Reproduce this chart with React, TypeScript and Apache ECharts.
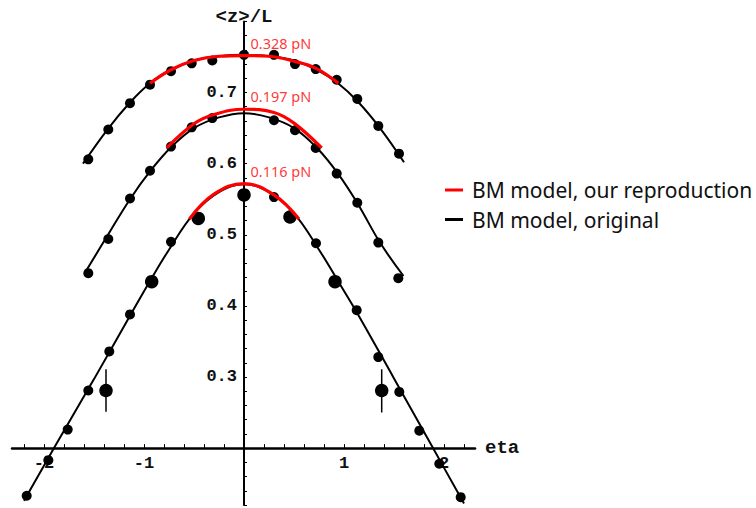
import React, { useEffect, useRef } from "react";
import * as echarts from "echarts";

// ---- data ----
const xTickLabels = [-2, -1, 1, 2];
const yTickLabels = [0.3, 0.4, 0.5, 0.6, 0.7];
const xTicks = [-2.2, -2, -1.8, -1.6, -1.4, -1.2, -1, -0.8, -0.6, -0.4, -0.2, 0.2, 0.4, 0.6, 0.8, 1, 1.2, 1.4, 1.6, 1.8, 2, 2.2];

const forceLabels = ["0.328 pN", "0.197 pN", "0.116 pN"];

// measured points (small dots)
const topPoints = [
  [-1.557, 0.606], [-1.357, 0.648], [-1.14, 0.685], [-0.94, 0.711], [-0.73, 0.73], [-0.523, 0.741],
  [-0.317, 0.745], [0, 0.753], [0.3, 0.753], [0.51, 0.74], [0.717, 0.733], [0.927, 0.718],
  [1.133, 0.691], [1.343, 0.653], [1.55, 0.614],
];
const midPoints = [
  [-1.557, 0.446], [-1.357, 0.494], [-1.14, 0.551], [-0.94, 0.59], [-0.73, 0.624], [-0.523, 0.651],
  [-0.317, 0.664], [0.3, 0.661], [0.51, 0.647], [0.717, 0.622], [0.927, 0.586], [1.133, 0.545],
  [1.343, 0.489], [1.543, 0.439],
];
const lowPoints = [
  [-2.173, 0.133], [-1.957, 0.183], [-1.763, 0.226], [-1.557, 0.281], [-1.347, 0.336], [-1.14, 0.388],
  [-0.73, 0.49], [0.3, 0.553], [0.72, 0.488], [1.127, 0.394], [1.343, 0.328], [1.553, 0.279],
  [1.753, 0.2245], [1.953, 0.178], [2.167, 0.131],
];
// large dots (0.116 pN set)
const lowBigPoints = [
  [-1.38, 0.281], [-0.923, 0.434], [-0.457, 0.523], [0, 0.556], [0.46, 0.525], [0.91, 0.434], [1.377, 0.281],
];
// error bars: [x, low, high]
const errorBars = [
  [-1.38, 0.251, 0.311],
  [1.377, 0.25, 0.311],
];

// BM model, original (black)
const topBlack = [
  [-1.61, 0.6], [-1.36, 0.649], [-1.14, 0.686], [-0.94, 0.713], [-0.73, 0.732], [-0.5, 0.745],
  [-0.25, 0.751], [0, 0.753], [0.25, 0.751], [0.5, 0.745], [0.73, 0.732], [0.94, 0.713],
  [1.14, 0.687], [1.36, 0.65], [1.6, 0.602],
];
const midBlack = [
  [-1.58, 0.449], [-1.36, 0.5], [-1.14, 0.55], [-0.94, 0.589], [-0.73, 0.623], [-0.5, 0.65],
  [-0.25, 0.665], [0, 0.671], [0.25, 0.665], [0.5, 0.65], [0.73, 0.622], [0.94, 0.586],
  [1.14, 0.543], [1.36, 0.489], [1.595, 0.442],
];
const lowBlack = [
  [-2.2, 0.126], [-1.9, 0.2], [-1.5, 0.297], [-1.14, 0.386], [-0.94, 0.435], [-0.75, 0.479],
  [-0.5, 0.53], [-0.25, 0.56], [0, 0.571], [0.25, 0.56], [0.5, 0.53], [0.75, 0.479],
  [0.94, 0.435], [1.14, 0.388], [1.5, 0.298], [1.89, 0.2], [2.2, 0.122],
];

// BM model, our reproduction (red)
const topRed = [
  [-0.94, 0.713], [-0.73, 0.732], [-0.5, 0.745], [-0.25, 0.751], [0, 0.752], [0.25, 0.751],
  [0.5, 0.744], [0.72, 0.734], [0.943, 0.713],
];
const midRed = [
  [-0.773, 0.622], [-0.5, 0.656], [-0.3, 0.669], [0, 0.6765], [0.3, 0.672], [0.5, 0.657], [0.777, 0.622],
];
const lowRed = [
  [-0.547, 0.522], [-0.3, 0.557], [0, 0.572], [0.3, 0.556], [0.55, 0.522],
];

const NAME_RED = "BM model, our reproduction";
const NAME_BLACK = "BM model, original";

const X_MIN = -2.32;
const X_MAX = 2.31;
const Y_MIN = 0.12;
const Y_MAX = 0.8;
const Y_CROSS = 0.2; // x axis crosses the y axis here

export default function App() {
  const ref = useRef<HTMLDivElement>(null);

  useEffect(() => {
    if (!ref.current) return;
    const chart = echarts.init(ref.current, undefined, { renderer: "svg" });

    const yTicks: number[] = [];
    for (let i = 6; i <= 40; i++) yTicks.push(Math.round(i * 2) / 100);

    const gridLeft = 12;
    const gridRight = 281;
    const gridTop = 21.4;
    const gridBottom = 3;
    const W = 756;
    const H = 508;
    const gw = W - gridLeft - gridRight;
    const gh = H - gridTop - gridBottom;
    // axis offsets so the axes cross at (0, Y_CROSS)
    const yAxisOffset = -((0 - X_MIN) / (X_MAX - X_MIN)) * gw;
    const xAxisOffset = -((Y_CROSS - Y_MIN) / (Y_MAX - Y_MIN)) * gh;

    const mono = "Liberation Mono";
    const blackLine = (data: number[][]) => ({
      type: "line",
      name: NAME_BLACK,
      data,
      smooth: 0.4,
      showSymbol: false,
      symbol: "none",
      color: "#000",
      lineStyle: { color: "#000", width: 2 },
      z: 2,
    });
    const redLine = (data: number[][]) => ({
      type: "line",
      name: NAME_RED,
      data,
      smooth: 0.4,
      showSymbol: false,
      symbol: "none",
      color: "#ff0000",
      lineStyle: { color: "#ff0000", width: 3.2 },
      z: 5,
    });
    const dots = (data: number[][], size: number) => ({
      type: "scatter",
      data,
      symbolSize: size,
      itemStyle: { color: "#000", opacity: 1 },
      z: 4,
    });

    const reds = [topRed, midRed, lowRed];
    const labelData = reds.map((arr, i) => {
      const peak = arr.reduce((a, b) => (b[1] > a[1] ? b : a));
      return { value: [0, peak[1]], name: forceLabels[i] };
    });

    const errSeries = errorBars.map((e) => ({
      type: "line",
      data: [[e[0], e[1]], [e[0], e[2]]],
      symbol: "none",
      lineStyle: { color: "#000", width: 1.5 },
      z: 3,
    }));

    chart.setOption({
      animation: false,
      backgroundColor: "#fff",
      grid: {
        left: gridLeft,
        right: gridRight,
        top: gridTop,
        bottom: gridBottom,
        containLabel: false,
        outerBoundsMode: "none",
      },
      legend: {
        data: [NAME_RED, NAME_BLACK],
        orient: "vertical",
        left: 445,
        top: 179.5,
        padding: 0,
        icon: "rect",
        itemWidth: 18,
        itemHeight: 3,
        itemGap: 8.5,
        textStyle: {
          fontFamily: "Noto Sans",
          fontSize: 21,
          lineHeight: 21,
          color: "#111",
          padding: [0, 0, 0, 4],
        },
        selectedMode: false,
      },
      xAxis: {
        type: "value",
        min: X_MIN,
        max: X_MAX,
        position: "bottom",
        offset: xAxisOffset,
        name: "eta",
        nameLocation: "end",
        nameGap: 10,
        nameTextStyle: { fontFamily: mono, fontWeight: "bold", fontSize: 19, color: "#111", verticalAlign: "middle" },
        axisLine: { onZero: false, lineStyle: { color: "#000", width: 2.5 } },
        axisTick: { show: true, inside: true, length: 4, customValues: xTicks, lineStyle: { color: "#000", width: 1 } },
        axisLabel: {
          customValues: xTickLabels,
          margin: 7,
          fontFamily: mono,
          fontWeight: "bold",
          fontSize: 17,
          color: "#111",
          formatter: (v: number) => String(v),
        },
        splitLine: { show: false },
      },
      yAxis: {
        type: "value",
        min: Y_MIN,
        max: Y_MAX,
        position: "left",
        offset: yAxisOffset,
        name: "<z>/L",
        nameLocation: "end",
        nameGap: 4,
        nameTextStyle: { fontFamily: mono, fontWeight: "bold", fontSize: 19, color: "#111", align: "center", verticalAlign: "middle" },
        axisLine: { onZero: false, lineStyle: { color: "#000", width: 2 } },
        axisTick: { show: true, inside: true, length: 3, customValues: yTicks, lineStyle: { color: "#000", width: 1 } },
        axisLabel: {
          customValues: yTickLabels,
          margin: 7,
          fontFamily: mono,
          fontWeight: "bold",
          fontSize: 17,
          color: "#111",
          formatter: (v: number) => v.toFixed(1),
        },
        splitLine: { show: false },
      },
      series: [
        blackLine(topBlack),
        blackLine(midBlack),
        blackLine(lowBlack),
        ...errSeries,
        dots(topPoints, 10),
        dots(midPoints, 10),
        dots(lowPoints, 10),
        dots(lowBigPoints, 13.5),
        redLine(topRed),
        redLine(midRed),
        redLine(lowRed),
        {
          type: "scatter",
          data: labelData,
          symbolSize: 1,
          itemStyle: { color: "rgba(0,0,0,0)" },
          label: {
            show: true,
            position: "right",
            distance: 6,
            offset: [0, -13],
            formatter: (p: any) => p.name,
            fontFamily: "Noto Sans",
            fontSize: 14.5,
            color: "#ff0000",
          },
          z: 6,
        },
      ],
    });

    return () => chart.dispose();
  }, []);

  return (
    <div
      ref={ref}
      style={{ position: "fixed", left: 0, top: 0, width: 756, height: 508, background: "#fff" }}
    />
  );
}
